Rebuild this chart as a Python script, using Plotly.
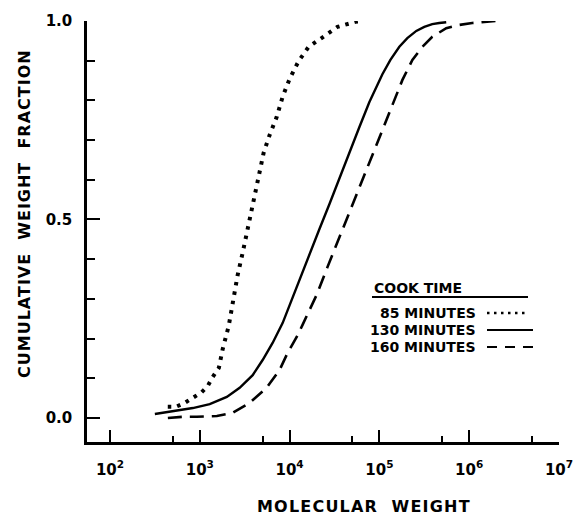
import plotly.graph_objects as go

# Cumulative weight fraction vs. molecular weight for three cook times
mw_85 = [440, 540, 680, 840, 1050, 1230, 1390, 1630, 1800, 2100, 2330, 2640,
         3000, 3420, 3980, 4530, 5140, 6000, 7180, 8360, 10000, 12600, 16300,
         22700, 34100, 54100, 64700]
cwf_85 = [0.028, 0.028, 0.038, 0.050, 0.065, 0.081, 0.103, 0.126, 0.174, 0.232,
          0.297, 0.360, 0.416, 0.479, 0.549, 0.612, 0.668, 0.713, 0.758, 0.809,
          0.854, 0.899, 0.935, 0.957, 0.985, 0.998, 1.0]

mw_130 = [316, 501, 836, 1290, 2000, 2780, 3880, 5010, 6470, 8360, 10500, 12900,
          16700, 21500, 27800, 35900, 46400, 59900, 77400, 108000, 132600, 166800,
          204700, 257700, 316200, 388000, 464200, 555000]
cwf_130 = [0.010, 0.018, 0.025, 0.035, 0.053, 0.076, 0.108, 0.146, 0.189, 0.239,
           0.297, 0.348, 0.413, 0.476, 0.539, 0.605, 0.668, 0.733, 0.796, 0.866,
           0.902, 0.935, 0.957, 0.975, 0.985, 0.992, 0.995, 0.997]

mw_160 = [441, 647, 927, 1550, 2330, 3590, 5550, 7740, 9510, 12000, 13900, 17500,
          20000, 26400, 33300, 43000, 55500, 71700, 88000, 108000, 139000,
          180000, 233000, 301000, 388000, 555000, 774000, 1080000, 2000000]
cwf_160 = [0.0, 0.003, 0.003, 0.005, 0.013, 0.038, 0.076, 0.121, 0.164, 0.204,
           0.234, 0.280, 0.310, 0.380, 0.436, 0.499, 0.562, 0.625, 0.675, 0.725,
           0.788, 0.851, 0.902, 0.935, 0.960, 0.982, 0.990, 0.995, 1.0]

legend_labels = ["85 MINUTES", "130 MINUTES", "160 MINUTES"]
x_tickvals = [1e2, 1e3, 1e4, 1e5, 1e6, 1e7]
x_ticktext = ["<b>10<sup>2</sup></b>", "<b>10<sup>3</sup></b>", "<b>10<sup>4</sup></b>",
              "<b>10<sup>5</sup></b>", "<b>10<sup>6</sup></b>", "<b>10<sup>7</sup></b>"]
x_minor = [5e2, 5e3, 5e4, 5e5, 5e6]
y_tickvals = [0.0, 0.5, 1.0]
y_ticktext = ["<b>0.0</b>", "<b>0.5</b>", "<b>1.0</b>"]
y_minor = [0.1, 0.2, 0.3, 0.4, 0.6, 0.7, 0.8, 0.9]

W, H = 579, 517
L, R, T, B = 87, 20, 21, 75
FONT = "DejaVu Sans"
INK = "#000000"

fig = go.Figure()
fig.add_trace(go.Scatter(x=mw_85, y=cwf_85, mode="lines",
                         line=dict(color=INK, width=4, dash="3.5px,6px")))
fig.add_trace(go.Scatter(x=mw_130, y=cwf_130, mode="lines",
                         line=dict(color=INK, width=2.4)))
fig.add_trace(go.Scatter(x=mw_160, y=cwf_160, mode="lines",
                         line=dict(color=INK, width=2.6, dash="14px,8px")))

pw, ph = W - L - R, H - T - B


def px(x):
    return (x - L) / pw


def py(y):
    return (H - B - y) / ph


def spaced(text, sp):
    # bold lettering with a little extra tracking
    return f'<b><span style="letter-spacing:{sp}px">{text}</span></b>'


ann = []
# axis titles
ann.append(dict(text=spaced("MOLECULAR  WEIGHT", 1.2), x=px(364), y=py(506),
                xref="paper", yref="paper", showarrow=False,
                xanchor="center", yanchor="middle",
                font=dict(family=FONT, size=16, color=INK)))
ann.append(dict(text=spaced("CUMULATIVE  WEIGHT  FRACTION", 1.0), x=px(24), y=py(214),
                xref="paper", yref="paper", showarrow=False, textangle=-90,
                xanchor="center", yanchor="middle",
                font=dict(family=FONT, size=16, color=INK)))
# legend block
ann.append(dict(text="<b>COOK TIME</b>", x=px(372), y=py(288), xref="paper", yref="paper",
                showarrow=False, xanchor="left", yanchor="middle",
                font=dict(family=FONT, size=14, color=INK)))
leg_y = [313, 330, 347]
for lab, yy in zip(legend_labels, leg_y):
    ann.append(dict(text=f"<b>{lab}</b>", x=px(478), y=py(yy), xref="paper", yref="paper",
                    showarrow=False, xanchor="right", yanchor="middle",
                    font=dict(family=FONT, size=14, color=INK)))

shapes = [
    dict(type="line", xref="paper", yref="paper", x0=px(372), x1=px(528),
         y0=py(297), y1=py(297), line=dict(color=INK, width=2)),
    dict(type="line", xref="paper", yref="paper", x0=px(487), x1=px(528),
         y0=py(313), y1=py(313), line=dict(color=INK, width=2.5, dash="2.5px,4.5px")),
    dict(type="line", xref="paper", yref="paper", x0=px(487), x1=px(533),
         y0=py(330), y1=py(330), line=dict(color=INK, width=2)),
    dict(type="line", xref="paper", yref="paper", x0=px(487), x1=px(536),
         y0=py(347), y1=py(347), line=dict(color=INK, width=2, dash="10px,8px")),
]

fig.update_layout(
    width=W, height=H,
    margin=dict(l=L, r=R, t=T, b=B, pad=0),
    paper_bgcolor="white", plot_bgcolor="white",
    showlegend=False,
    annotations=ann, shapes=shapes,
    font=dict(family=FONT, color=INK),
)
fig.update_xaxes(
    type="log", range=[1.744, 7.0], automargin=False,
    tickmode="array", tickvals=x_tickvals, ticktext=x_ticktext,
    ticks="inside", ticklen=12, tickwidth=2, tickcolor=INK,
    minor=dict(tickmode="array", tickvals=x_minor, ticks="inside", ticklen=6,
               tickwidth=2, tickcolor=INK, showgrid=False),
    showline=True, linecolor=INK, linewidth=2.5,
    showgrid=False, zeroline=False,
    tickfont=dict(family=FONT, size=15, color=INK),
    ticklabelstandoff=12,
)
fig.update_yaxes(
    range=[-0.0605, 1.0], automargin=False,
    tickmode="array", tickvals=y_tickvals, ticktext=y_ticktext,
    ticks="inside", ticklen=13, tickwidth=2, tickcolor=INK,
    minor=dict(tickmode="array", tickvals=y_minor, ticks="inside", ticklen=8,
               tickwidth=2, tickcolor=INK, showgrid=False),
    showline=True, linecolor=INK, linewidth=2.5,
    showgrid=False, zeroline=False,
    tickfont=dict(family=FONT, size=15, color=INK),
    ticklabelstandoff=9,
)

fig.write_html("out.html")
